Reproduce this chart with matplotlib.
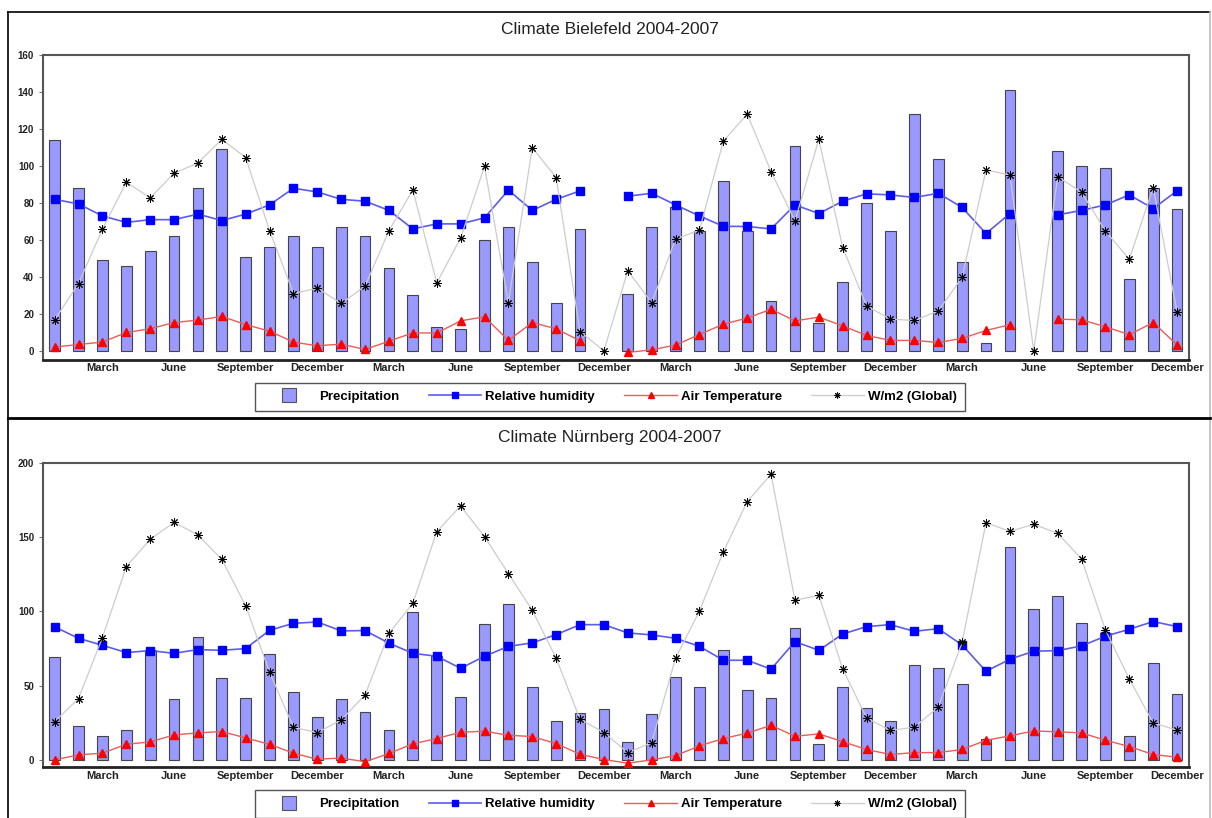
import numpy as np
import matplotlib
matplotlib.use('Agg')
import matplotlib.pyplot as plt
from matplotlib.lines import Line2D

plt.rcParams['font.family'] = ['Liberation Sans', 'DejaVu Sans']

nan = np.nan
W, H = 1212, 818

# monthly values Jan 2004 .. Dec 2007
tick_months = ['March', 'June', 'September', 'December'] * 4
tick_index = [2, 5, 8, 11, 14, 17, 20, 23, 26, 29, 32, 35, 38, 41, 44, 47]

bielefeld_precip = [114, 88, 49, 46, 54, 62, 88, 109, 51, 56, 62, 56,
	67, 62, 45, 30, 13, 12, 60, 67, 48, 26, 66, nan,
	31, 67, 78, 65, 92, 65, 27, 111, 15, 37, 80, 65,
	128, 104, 48, 4, 141, nan, 108, 100, 99, 39, 88, 77]
bielefeld_humidity = [82, 79.5, 73, 69.5, 71, 71, 74, 70.5, 74, 79, 88, 86,
	82, 81, 76, 66, 68.7, 68.7, 72, 87, 76, 82, 86.6, nan,
	83.7, 85.3, 79, 73, 67.4, 67.3, 66, 79, 74.3, 81, 85, 84.4,
	83, 85.3, 77.6, 63.5, 74.3, nan, 73.6, 76, 79, 84.4, 77, 86.6]
bielefeld_temp = [2.0, 3.4, 4.7, 9.9, 11.9, 15.3, 16.6, 18.6, 14.2, 10.6, 4.7, 2.7,
	3.6, 0.7, 5.2, 9.7, 9.6, 16.2, 18.4, 5.6, 15.3, 11.9, 5.4, nan,
	-0.9, 0.5, 3.1, 8.8, 14.4, 17.7, 22.5, 16.2, 18.2, 13.5, 8.3, 5.6,
	5.6, 4.5, 6.7, 11.0, 14.1, nan, 17.1, 16.8, 13.0, 8.7, 15.3, 3.2]
bielefeld_global = [16.8, 36.4, 65.8, 91.3, 82.8, 96.1, 101.7, 114.5, 104.6, 65.1, 31.0, 33.9,
	25.6, 35.0, 65.1, 87.1, 36.8, 61.0, 99.9, 26.0, 110.0, 93.8, 10.3, 0,
	43.3, 26.0, 60.6, 65.3, 113.5, 128.1, 97.0, 70.3, 114.5, 55.9, 24.2, 17.1,
	16.4, 21.6, 39.7, 97.9, 95.2, 0, 94.2, 85.9, 64.8, 49.6, 88.4, 21.1]

nuernberg_precip = [69.6, 22.7, 16.2, 19.8, 73.8, 41.3, 82.6, 55.2, 42.0, 71.2, 45.8, 29.2,
	41.1, 32.5, 19.8, 99.3, 70, 42.6, 91.6, 105.1, 48.9, 26.0, 31.9, 34.3,
	12.1, 31.0, 55.7, 49.2, 74.1, 47.4, 41.5, 88.9, 10.8, 48.9, 34.8, 26.5,
	63.7, 61.7, 51.2, 14.1, 143.4, 101.5, 110.2, 92.5, 85.7, 16.2, 65.5, 44.7]
nuernberg_humidity = [89.6, 81.9, 77.2, 72.3, 73.6, 71.8, 74.3, 73.8, 75.0, 87.3, 92.0, 92.9,
	86.9, 87.1, 78.6, 71.8, 69.8, 61.7, 69.8, 76.5, 78.8, 84.4, 91.1, 91.1,
	85.5, 84.2, 81.9, 76.5, 67.1, 67.1, 61.1, 79.7, 73.8, 84.8, 89.8, 91.1,
	86.6, 88.4, 77.4, 59.7, 67.8, 73.2, 73.6, 76.8, 83.3, 88.0, 93.2, 89.8]
nuernberg_temp = [0, 3.4, 4.5, 10.5, 12.1, 16.8, 18.2, 19.1, 14.8, 10.5, 4.5, 0.4,
	1.3, -1.3, 4.3, 10.8, 14.4, 18.6, 19.3, 16.6, 15.7, 11.0, 3.8, 0.2,
	-2.2, 0, 2.9, 9.4, 14.4, 18.0, 23.3, 15.9, 17.5, 12.3, 7.0, 3.6,
	4.9, 4.9, 7.0, 13.2, 16.2, 19.5, 18.9, 18.2, 13.2, 9.0, 3.6, 1.8]
nuernberg_global = [25.8, 41.3, 82.4, 130.2, 148.6, 160.0, 151.5, 135.1, 103.7, 59.0, 22.0, 18.4,
	26.9, 43.8, 85.3, 105.5, 153.8, 171.0, 150.4, 125.5, 100.8, 68.5, 27.4, 18.4,
	4.9, 11.7, 68.5, 100.3, 140.1, 174.0, 192.4, 107.5, 110.9, 61.3, 28.1, 19.8,
	22.0, 35.5, 79.2, 159.8, 153.9, 158.7, 152.6, 135.4, 87.5, 54.5, 24.9, 20.0]

labels = ['Precipitation', 'Relative humidity', 'Air Temperature', 'W/m2 (Global)']


def px_rect(left, top, right, bottom):
	# pixel box -> figure fraction rect
	return [left / W, 1 - bottom / H, (right - left) / W, (bottom - top) / H]


def plot_panel(fig, rect, title, title_y, legend_y, precip, hum, temp, glob, ymax, ystep):
	ax = fig.add_axes(rect)
	x = np.arange(len(precip))
	ax.bar(x, precip, width=0.45, color='#9999ff', edgecolor='#444444', linewidth=0.8, zorder=2)
	h1, = ax.plot(x, hum, color='#5c5ce8', lw=1.2, marker='s', ms=6, mfc='#0000ff', mec='#0000ff', zorder=3)
	h2, = ax.plot(x, temp, color='#ec5a5a', lw=1.0, marker='^', ms=6, mfc='#ff0000', mec='#ff0000', zorder=3)
	h3, = ax.plot(x, glob, color='#cccccc', lw=0.9, marker=(8, 2, 0), ms=6, mfc='black', mec='black', mew=0.7, zorder=4)

	ax.set_xlim(-0.5, len(precip) - 0.5)
	ax.set_ylim(-5, ymax)
	ax.set_yticks(np.arange(0, ymax + 1, ystep))
	ax.set_xticks(tick_index)
	ax.set_xticklabels(tick_months)
	for lab in ax.get_xticklabels() + ax.get_yticklabels():
		lab.set_fontweight('bold')
		lab.set_color('#222222')
	ax.tick_params(axis='x', length=0, pad=2.5, labelsize=8)
	ax.tick_params(axis='y', length=2.7, width=0.8, color='#777777', pad=3.5, labelsize=7)

	for side in ['top', 'right', 'left']:
		ax.spines[side].set_color('#555555')
		ax.spines[side].set_linewidth(1.5)
	ax.spines['bottom'].set_color('#222222')
	ax.spines['bottom'].set_linewidth(2)

	fig.text(610 / W, 1 - title_y / H, title, ha='center', va='center', fontsize=12.5, color='#222222')

	bar_proxy = Line2D([], [], ls='none', marker='s', ms=14, mfc='#9999ff', mec='#555555', mew=0.8)
	leg = fig.legend([bar_proxy, h1, h2, h3], labels, loc='upper center', ncol=4,
		bbox_to_anchor=(0.503, 1 - legend_y / H), borderaxespad=0, numpoints=1, markerscale=0.7,
		handlelength=4.0, columnspacing=2.2, handletextpad=0.3, borderpad=0.6,
		fancybox=False, framealpha=1, edgecolor='#555555', prop={'size': 9.5, 'weight': 'bold'})
	leg.get_frame().set_linewidth(1.0)
	return ax


def frame_line(fig, x0, y0, x1, y1, color='black', lw=1.2):
	fig.add_artist(Line2D([x0 / W, x1 / W], [1 - y0 / H, 1 - y1 / H], transform=fig.transFigure, color=color, lw=lw))


fig = plt.figure(figsize=(W / 100, H / 100), dpi=100)

plot_panel(fig, px_rect(42.7, 55.3, 1189, 360), 'Climate Bielefeld 2004-2007', 30, 382.7,
	bielefeld_precip, bielefeld_humidity, bielefeld_temp, bielefeld_global, 160, 20)
plot_panel(fig, px_rect(42.7, 463, 1189, 767.3), 'Climate N\u00fcrnberg 2004-2007', 437, 790,
	nuernberg_precip, nuernberg_humidity, nuernberg_temp, nuernberg_global, 200, 50)

# panel borders
frame_line(fig, 8, 12, 1210, 12)
frame_line(fig, 8, 12, 8, 818)
frame_line(fig, 1210, 12, 1210, 818, color='#bbbbbb')
frame_line(fig, 8, 418, 1210, 418, lw=2)

fig.savefig('out.png', dpi=100)
